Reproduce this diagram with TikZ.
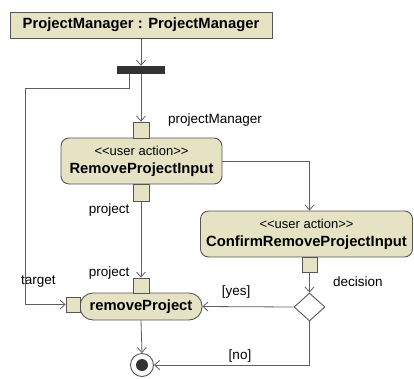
\documentclass[tikz,border=0pt]{standalone}
\usepackage{fontspec}
\setmainfont{Liberation Sans}[Ligatures=TeXOff]
\usetikzlibrary{arrows.meta,shapes.geometric}
\definecolor{beige}{RGB}{229,227,196}
\definecolor{edge}{RGB}{85,85,85}
\definecolor{wire}{RGB}{95,95,95}
\tikzset{
  arr/.style={draw=wire,line width=0.8pt,-{Straight Barb[length=5pt,width=9pt,line width=0.8pt]}},
  ln/.style={draw=wire,line width=0.8pt},
  actbox/.style={draw=edge,fill=beige,line width=0.9pt,rounded corners=8pt,inner sep=0pt,align=center},
  pinbox/.style={draw=edge,fill=beige,line width=0.8pt,inner sep=0pt},
  lbl/.style={inner sep=0pt,font=\fontsize{13.5}{16}\selectfont},
  bfont/.style={font=\bfseries\fontsize{14.8}{18}\selectfont},
}
\begin{document}
\begin{tikzpicture}[x=1pt,y=-1pt]
\useasboundingbox (0,0) rectangle (414,378);
% labels drawn first (line may overlap)
\node[lbl,anchor=west] (ltarget) at (21,282) {target};
% top object node
\node[draw=edge,fill=beige,line width=1pt,inner sep=0pt,minimum width=262pt,minimum height=26pt,bfont] (pm) at (141,25) {ProjectManager : ProjectManager};
% fork
\node[fill=black!80,inner sep=0pt,minimum width=48pt,minimum height=8pt] (fork) at (141,70) {};
% actions
\node[actbox,minimum width=161pt,minimum height=46pt,font=\fontsize{13}{18}\selectfont] (rpi) at (141.5,161) {<<user action>>\\{\bfseries\fontsize{14.8}{18}\selectfont RemoveProjectInput}};
\node[actbox,minimum width=212pt,minimum height=46pt,font=\fontsize{13}{18}\selectfont] (crpi) at (306.5,234) {<<user action>>\\{\bfseries\fontsize{14.8}{18}\selectfont ConfirmRemoveProjectInput}};
\node[actbox,rounded corners=13pt,minimum width=122pt,minimum height=27pt,bfont] (rem) at (141,306.5) {removeProject};
% pins
\node[pinbox,minimum width=16pt,minimum height=16pt] (pin1) at (141,130) {};
\node[pinbox,minimum width=16pt,minimum height=17pt] (pin2) at (141,192.5) {};
\node[pinbox,minimum width=16pt,minimum height=15pt] (pin3) at (141,285.5) {};
\node[pinbox,minimum width=14pt,minimum height=15pt] (pinL) at (73,304.5) {};
\node[pinbox,minimum width=15pt,minimum height=15pt] (pin4) at (309.5,264.5) {};
% decision
\node[diamond,draw=edge,fill=white,line width=0.9pt,inner sep=0pt,minimum width=31pt,minimum height=28pt] (dec) at (309.5,307) {};
% final node
\node[circle,draw=edge,fill=white,line width=0.9pt,inner sep=0pt,minimum size=23pt] (final) at (142,365) {};
\node[circle,fill=black!80,inner sep=0pt,minimum size=12pt] (finaldot) at (final.center) {};
% labels
\node[lbl,anchor=west] (lpm) at (168,120) {projectManager};
\node[lbl,anchor=east] (lproj1) at (129.5,210) {project};
\node[lbl,anchor=east] (lproj2) at (129.5,273) {project};
\node[lbl,anchor=west] (ldec) at (333,282) {decision};
\node[lbl] (lyes) at (236,292) {[yes]};
\node[lbl] (lno) at (240,356) {[no]};
% connectors
\coordinate (c1) at (25,88);
\draw[arr] (pm.south) -- (fork.north);
\draw[arr] (fork.south) -- (pin1.north);
\draw[arr] ([xshift=-12pt]fork.south) |- (c1) |- (pinL.west);
\draw[arr] (pin2.south) -- (pin3.north);
\draw[arr] (rpi.east) -| (crpi.north -| pin4.north);
\draw[arr] (pin4.south) -- (dec.north);
\draw[arr] (dec.west) -- (rem.east);
\draw[arr] (dec.south) |- (final.east);
\draw[arr] (rem.south) -- (final.north);
\end{tikzpicture}
\end{document}
